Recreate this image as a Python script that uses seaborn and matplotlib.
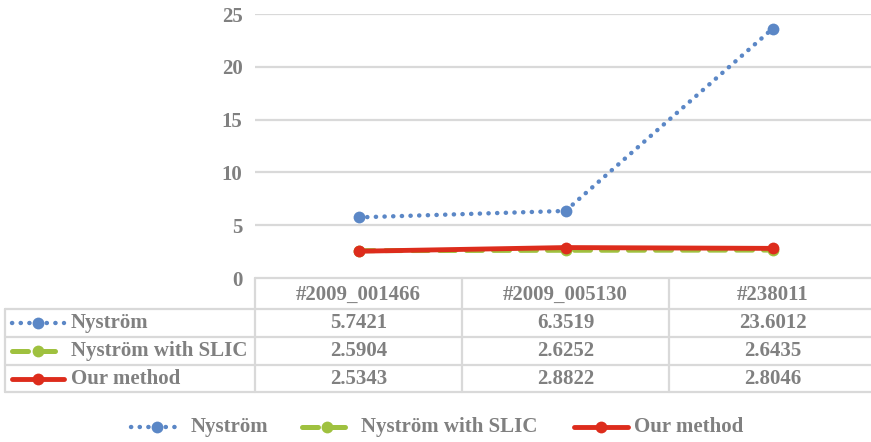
import matplotlib
matplotlib.use("Agg")
import matplotlib.pyplot as plt
from matplotlib.lines import Line2D
import seaborn as sns
import pandas as pd

images = ["#2009_001466", "#2009_005130", "#238011"]
methods = ["Nyström", "Nyström with SLIC", "Our method"]
nystrom = [5.7421, 6.3519, 23.6012]
nystrom_slic = [2.5904, 2.6252, 2.6435]
our_method = [2.5343, 2.8822, 2.8046]
values = {"Nyström": nystrom, "Nyström with SLIC": nystrom_slic, "Our method": our_method}
yticks = [0, 5, 10, 15, 20, 25]

sns.set_theme(style="white")
plt.rcParams["font.family"] = ["Liberation Serif", "DejaVu Serif"]
plt.rcParams["font.weight"] = "bold"

TXT = "#808080"
GRID = "#d9d9d9"
colors = {"Nyström": "#5b87c6", "Nyström with SLIC": "#9fc13f", "Our method": "#dd2c1c"}
styles = {
    "Nyström": dict(linestyle=(0, (0.05, 1.9)), linewidth=3.2, dash_capstyle="round", zorder=4),
    "Nyström with SLIC": dict(linestyle=(0, (3.2, 2.2)), linewidth=3.6, dash_capstyle="round", zorder=2),
    "Our method": dict(linestyle="-", linewidth=3.5, zorder=3),
}

W, H = 871, 442
fig = plt.figure(figsize=(W / 100, H / 100), dpi=100)
fig.patch.set_facecolor("white")

left_px, right_px, top_px, bot_px = 255, 876, 14, 278
ax = fig.add_axes([left_px / W, 1 - bot_px / H, (right_px - left_px) / W, (bot_px - top_px) / H])

rows = []
for m in methods:
    for i, v in zip(images, values[m]):
        rows.append({"image": i, "method": m, "value": v, "pos": images.index(i)})
df = pd.DataFrame(rows)

for m in methods:
    d = df[df["method"] == m]
    sns.lineplot(data=d, x="pos", y="value", ax=ax, color=colors[m],
                 marker="o", markersize=8.5, markeredgewidth=0, **styles[m])

ax.set_xlim(-0.5, 2.5)
ax.set_ylim(0, 25)
ax.set_yticks(yticks)
ax.set_yticklabels([str(t) for t in yticks])
ax.set_xticks([])
ax.set_xlabel("")
ax.set_ylabel("")
for s in ax.spines.values():
    s.set_visible(False)
for t in yticks[1:]:
    ax.axhline(t, color=GRID, linewidth=1.6, zorder=0)
ax.tick_params(axis="y", length=0, pad=9, labelsize=15, labelcolor=TXT)
for lab in ax.get_yticklabels():
    lab.set_fontweight("bold")
ax.set_facecolor("none")

# overlay axes in pixel coordinates for data table and legend
ov = fig.add_axes([0, 0, 1, 1])
ov.set_xlim(0, W)
ov.set_ylim(H, 0)
ov.axis("off")
ov.set_zorder(-1)

LC = "#d9d9d9"
lw = 1.6
col_edges = [255, 462, 669, 876]
row_edges = [278, 309, 337, 365, 392]
ov.plot([255, 876], [278, 278], color=LC, lw=lw)
for y in row_edges[1:]:
    ov.plot([5, 876], [y, y], color=LC, lw=lw)
ov.plot([5, 5], [row_edges[1], row_edges[-1]], color=LC, lw=lw)
for x in col_edges:
    ov.plot([x, x], [278, row_edges[-1]], color=LC, lw=lw)

fs = 15
for j, name in enumerate(images):
    cx = (col_edges[j] + col_edges[j + 1]) / 2
    ov.text(cx, 295, name, ha="center", va="center", fontsize=fs, color=TXT, fontweight="bold")

def key(x0, x1, y, m):
    st = dict(styles[m])
    st.pop("zorder")
    ov.add_line(Line2D([x0, x1], [y, y], color=colors[m], **st))
    ov.plot([(x0 + x1) / 2], [y], marker="o", markersize=8.5, color=colors[m], markeredgewidth=0)

for r, m in enumerate(methods):
    cy = (row_edges[r + 1] + row_edges[r + 2]) / 2
    key(12, 64, cy, m)
    ov.text(71, cy, m, ha="left", va="center", fontsize=fs, color=TXT, fontweight="bold")
    for j, v in enumerate(values[m]):
        cx = (col_edges[j] + col_edges[j + 1]) / 2
        ov.text(cx, cy, f"{v:.4f}", ha="center", va="center", fontsize=fs, color=TXT, fontweight="bold")

leg_pos = [(131, 183, 191), (302, 352, 361), (574, 628, 634)]
for (x0, x1, tx), m in zip(leg_pos, methods):
    key(x0, x1, 427, m)
    ov.text(tx, 427, m, ha="left", va="center", fontsize=fs, color=TXT, fontweight="bold")

fig.savefig("out.png", dpi=100, facecolor="white")
